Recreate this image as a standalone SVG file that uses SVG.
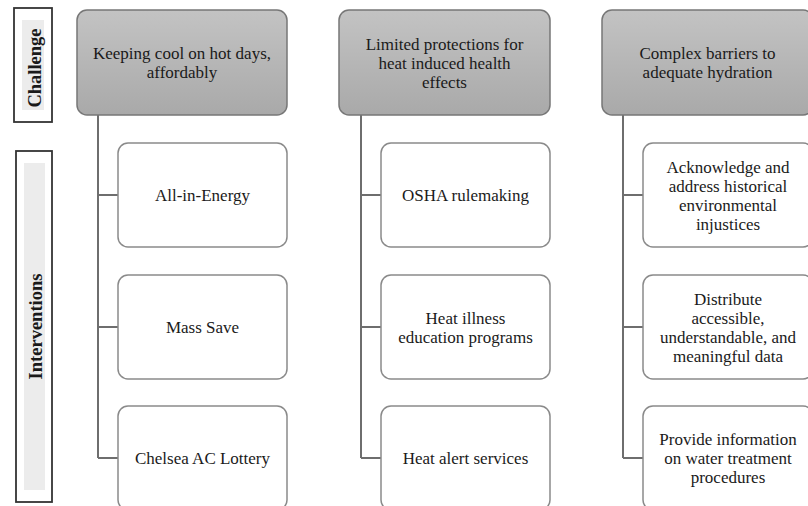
<svg xmlns="http://www.w3.org/2000/svg" width="808" height="506" viewBox="0 0 808 506">
<defs>
<linearGradient id="gr" x1="0" y1="0" x2="0" y2="1">
<stop offset="0" stop-color="#c3c3c3"/>
<stop offset="1" stop-color="#a9a9a9"/>
</linearGradient>
<style>
.t{font-family:"Liberation Serif","Times New Roman",serif;font-size:17px;fill:#1a1a1a;text-anchor:middle}
.lbl{font-family:"Liberation Serif","Times New Roman",serif;font-size:18.5px;font-weight:bold;fill:#1a1a1a;text-anchor:middle}
.ch{fill:url(#gr);stroke:#777777;stroke-width:1.5}
.iv{fill:#ffffff;stroke:#8a8a8a;stroke-width:1.5}
.side{fill:#ffffff;stroke:#333333;stroke-width:1.8}
.sidein{fill:#ececec}
.con{fill:none;stroke:#6e6e6e;stroke-width:2}
</style>
</defs>
<rect width="808" height="506" fill="#ffffff"/>

<g id="label-challenge">
<rect class="side" x="14" y="8" width="38" height="114"/>
<rect class="sidein" x="22" y="20" width="22" height="90"/>
<text class="lbl" transform="translate(41,68) rotate(-90)">Challenge</text>
</g>
<g id="label-interventions">
<rect class="side" x="16" y="151" width="36" height="351"/>
<rect class="sidein" x="24" y="163" width="21" height="327"/>
<text class="lbl" transform="translate(42,326.5) rotate(-90)">Interventions</text>
</g>

<g id="connectors">
<path class="con" d="M98,115 V458 M98,195 H118 M98,327 H118 M98,458 H118"/>
<path class="con" d="M361,115 V458 M361,195 H381 M361,327 H381 M361,458 H381"/>
<path class="con" d="M623,115 V458 M623,195 H643 M623,327 H643 M623,458 H643"/>
</g>

<g id="challenge1">
<rect class="ch" x="77" y="10" width="210" height="105" rx="10"/>
<text class="t" x="182" y="59">Keeping cool on hot days,</text>
<text class="t" x="182" y="78">affordably</text>
</g>
<g id="challenge2">
<rect class="ch" x="339" y="10" width="211" height="105" rx="10"/>
<text class="t" x="444.5" y="49.5">Limited protections for</text>
<text class="t" x="444.5" y="68.5">heat induced health</text>
<text class="t" x="444.5" y="87.5">effects</text>
</g>
<g id="challenge3">
<rect class="ch" x="602" y="10" width="211" height="105" rx="10"/>
<text class="t" x="707.5" y="59">Complex barriers to</text>
<text class="t" x="707.5" y="78">adequate hydration</text>
</g>

<g id="int1a">
<rect class="iv" x="118" y="143" width="169" height="104" rx="10"/>
<text class="t" x="202.5" y="201">All-in-Energy</text>
</g>
<g id="int1b">
<rect class="iv" x="118" y="275" width="169" height="104" rx="10"/>
<text class="t" x="202.5" y="333">Mass Save</text>
</g>
<g id="int1c">
<rect class="iv" x="118" y="406" width="169" height="104" rx="10"/>
<text class="t" x="202.5" y="464">Chelsea AC Lottery</text>
</g>

<g id="int2a">
<rect class="iv" x="381" y="143" width="169" height="104" rx="10"/>
<text class="t" x="465.5" y="201">OSHA rulemaking</text>
</g>
<g id="int2b">
<rect class="iv" x="381" y="275" width="169" height="104" rx="10"/>
<text class="t" x="465.5" y="323.5">Heat illness</text>
<text class="t" x="465.5" y="342.5">education programs</text>
</g>
<g id="int2c">
<rect class="iv" x="381" y="406" width="169" height="104" rx="10"/>
<text class="t" x="465.5" y="464">Heat alert services</text>
</g>

<g id="int3a">
<rect class="iv" x="643" y="143" width="170" height="104" rx="10"/>
<text class="t" x="728" y="172.5">Acknowledge and</text>
<text class="t" x="728" y="191.5">address historical</text>
<text class="t" x="728" y="210.5">environmental</text>
<text class="t" x="728" y="229.5">injustices</text>
</g>
<g id="int3b">
<rect class="iv" x="643" y="275" width="170" height="104" rx="10"/>
<text class="t" x="728" y="304.5">Distribute</text>
<text class="t" x="728" y="323.5">accessible,</text>
<text class="t" x="728" y="342.5">understandable, and</text>
<text class="t" x="728" y="361.5">meaningful data</text>
</g>
<g id="int3c">
<rect class="iv" x="643" y="406" width="170" height="104" rx="10"/>
<text class="t" x="728" y="445">Provide information</text>
<text class="t" x="728" y="464">on water treatment</text>
<text class="t" x="728" y="483">procedures</text>
</g>
</svg>
